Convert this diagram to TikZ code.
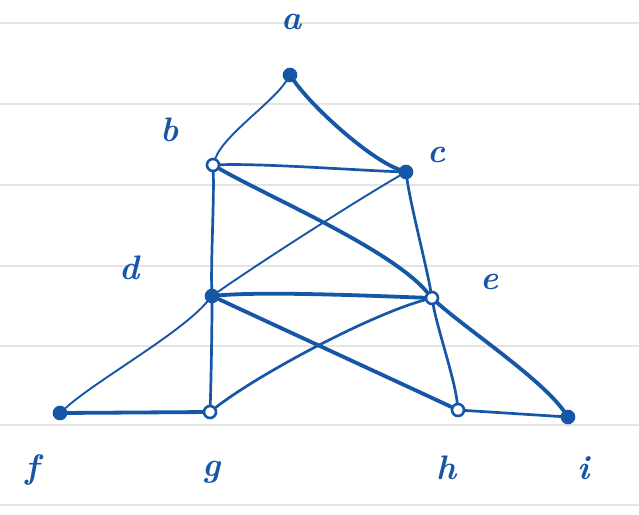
\documentclass[tikz,border=0pt]{standalone}
\usepackage{tikz}
\definecolor{ink}{RGB}{22,86,166}
\definecolor{rule}{RGB}{228,228,228}
\begin{document}
\begin{tikzpicture}[x=1pt,y=-1pt,
  vtx/.style={circle,draw=ink,line width=2.6pt,fill=white,minimum size=12pt,inner sep=0pt},
  vfill/.style={vtx,fill=ink},
  lbl/.style={text=ink,font=\fontsize{34}{34}\selectfont\bfseries\itshape},
  every to/.style={looseness=0.6},
  thin/.style={draw=ink,line width=1.9pt,line cap=round},
  mid/.style={draw=ink,line width=2.7pt,line cap=round},
  thick/.style={draw=ink,line width=3.8pt,line cap=round}]
\useasboundingbox (0,0) rectangle (639,514);
\fill[white] (0,0) rectangle (639,514);
% ruled paper lines
\foreach \yy in {23,104,185,266,346,425,505}
  \draw[rule,line width=1.6pt] (0,\yy) -- (639,\yy);
% vertices
\node[vfill] (a) at (290,75) {};
\node[vtx] (b) at (213,165) {};
\node[vfill] (c) at (406,172) {};
\node[vfill] (d) at (212,296) {};
\node[vtx] (e) at (432,298) {};
\node[vfill] (f) at (60,413) {};
\node[vtx] (g) at (210,412) {};
\node[vtx] (h) at (458,410) {};
\node[vfill] (i) at (568,417) {};
% labels
\node[lbl] (la) at (292,22) {a};
\node[lbl] (lb) at (170,130) {b};
\node[lbl] (lc) at (437,155) {c};
\node[lbl] (ld) at (130,268) {d};
\node[lbl] (le) at (490,282) {e};
\node[lbl] (lf) at (32,470) {f};
\node[lbl] (lg) at (212,472) {g};
\node[lbl] (lh) at (447,468) {h};
\node[lbl] (li) at (584,468) {i};
% edges
\draw[thin] (a) to[out=-122,in=70] (b);
\draw[thick] (a) to[out=-55,in=160] (c);
\draw[mid] (b) to[out=2,in=178] (c);
\draw[thick] (b) to[out=-30,in=130] (e);
\draw[thin] (c) to[out=-150,in=35] (d);
\draw[mid] (b) to[out=-88,in=92] (d);
\draw[mid] (c) to[out=-82,in=100] (e);
\draw[thick] (d) to[out=5,in=178] (e);
\draw[thin] (d) to[out=-130,in=42] (f);
\draw[mid] (d) to[out=-90,in=88] (g);
\draw[thick] (d) to[out=-25,in=155] (h);
\draw[mid] (e) to[out=-165,in=38] (g);
\draw[mid] (e) to[out=-80,in=96] (h);
\draw[thick] (e) to[out=-42,in=125] (i);
\draw[thick] (f) -- (g);
\draw[mid] (h) -- (i);
\end{tikzpicture}
\end{document}
